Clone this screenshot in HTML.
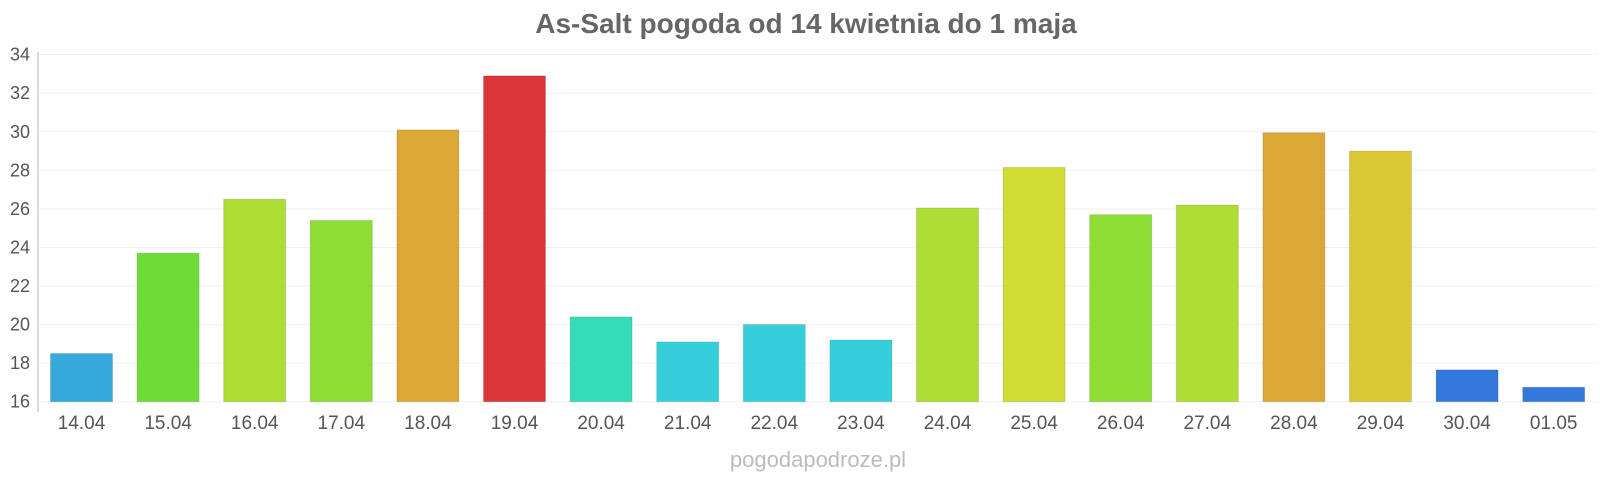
<!DOCTYPE html>
<html><head><meta charset="utf-8"><style>
body{margin:0;background:#fff;}
svg text{font-family:"Liberation Sans",Arial,sans-serif;}
</style></head><body>
<svg width="1600" height="480" xmlns="http://www.w3.org/2000/svg">
<rect width="1600" height="480" fill="#fff"/>
<text x="806" y="33" text-anchor="middle" font-size="28" font-weight="bold" fill="#666">As-Salt pogoda od 14 kwietnia do 1 maja</text>
<g id="grid" stroke="#f0f0f0" stroke-width="1"></g>
<g id="ylab" font-size="18" fill="#555" text-anchor="end"></g>
<line x1="38" y1="52" x2="38" y2="412" stroke="#ccc" stroke-width="1.5"/>
<g id="bars"></g>
<g id="xlab" font-size="19" fill="#555" text-anchor="middle"></g>
<text x="818" y="467" text-anchor="middle" font-size="22" fill="#bbb">pogodapodroze.pl</text>
<script>
var ns="http://www.w3.org/2000/svg";
function el(t,a,p,txt){var e=document.createElementNS(ns,t);for(var k in a)e.setAttribute(k,a[k]);if(txt)e.textContent=txt;document.getElementById(p).appendChild(e);}
var y0=401.7,s=19.28;
for(var v=16;v<=34;v+=2){var y=y0-(v-16)*s;el('line',{x1:38,x2:1598,y1:y,y2:y},'grid');el('text',{x:30,y:y+6},'ylab',''+v);}
var d=[[18.5,'#37a8dc','14.04'],[23.7,'#6edc37','15.04'],[26.5,'#aedd35','16.04'],[25.4,'#8ddd35','17.04'],[30.1,'#dba835','18.04'],[32.9,'#db3535','19.04'],[20.4,'#35dbb8','20.04'],[19.1,'#35cfdb','21.04'],[20.0,'#35cfdb','22.04'],[19.2,'#35cfdb','23.04'],[26.05,'#aedd35','24.04'],[28.15,'#cfdd35','25.04'],[25.7,'#8ddd35','26.04'],[26.2,'#aedd35','27.04'],[29.95,'#dba835','28.04'],[29.0,'#dbc835','29.04'],[17.65,'#3578db','30.04'],[16.75,'#3578db','01.05']];
d.forEach(function(b,i){var c=81.5+i*86.6;var y=y0-(b[0]-16)*s;el('rect',{x:c-31,y:y,width:62,height:y0-y,fill:b[1],stroke:'rgba(0,0,0,0.12)','stroke-width':1},'bars');el('text',{x:c,y:429},'xlab',b[2]);});
</script>
</svg>
</body></html>
